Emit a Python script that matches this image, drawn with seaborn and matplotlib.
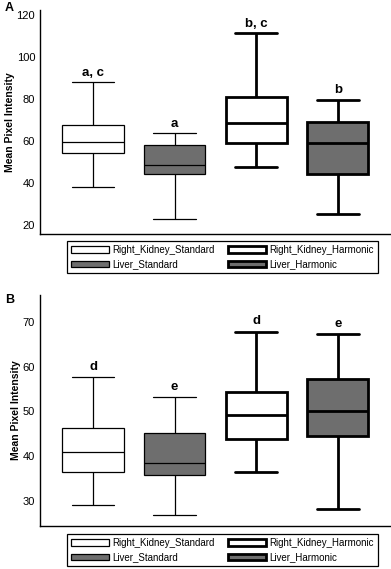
import numpy as np
import pandas as pd
import seaborn as sns
import matplotlib.pyplot as plt
from matplotlib.patches import Patch

# ==========================================
# data
# ==========================================
groups = ['Right_Kidney_Standard', 'Liver_Standard', 'Right_Kidney_Harmonic', 'Liver_Harmonic']
fills = ['white', '#6e6e6e', 'white', '#6e6e6e']
lws = [0.9, 0.9, 2.0, 2.0]

# panel A: low whisker, Q1, median, Q3, high whisker
a_low = [38.3, 22.9, 47.8, 25.4]
a_q1 = [54.3, 44.3, 59.0, 44.3]
a_med = [59.4, 48.6, 68.4, 58.9]
a_q3 = [67.8, 57.9, 80.8, 68.9]
a_high = [88.1, 63.7, 111.6, 79.5]
a_letters = ['a, c', 'a', 'b, c', 'b']
a_letter_y = [92.5, 68.1, 115.7, 84.3]

# panel B
b_low = [29.0, 26.7, 36.3, 28.1]
b_q1 = [36.3, 35.7, 43.7, 44.4]
b_med = [40.9, 38.4, 49.2, 50.1]
b_q3 = [46.3, 45.1, 54.3, 57.3]
b_high = [57.6, 53.2, 67.8, 67.3]
b_letters = ['d', 'e', 'd', 'e']
b_letter_y = [59.8, 55.5, 70.2, 69.6]


def five_num_frame(low, q1, med, q3, high):
    rows = []
    for g, vals in zip(groups, zip(low, q1, med, q3, high)):
        for v in vals:
            rows.append({'group': g, 'value': v})
    return pd.DataFrame(rows)


sns.set_style('white')
plt.rcParams['font.family'] = ['Liberation Sans', 'DejaVu Sans']
plt.rcParams['text.color'] = 'black'
plt.rcParams['axes.labelcolor'] = 'black'
plt.rcParams['ytick.color'] = 'black'

fig = plt.figure(figsize=(3.91, 5.69), dpi=100)
ax_a = fig.add_axes([40 / 391, 1 - 234.3 / 569, 350 / 391, 224.3 / 569])
ax_b = fig.add_axes([40 / 391, 1 - 525.7 / 569, 350 / 391, 230.7 / 569])

panels = [
    (ax_a, five_num_frame(a_low, a_q1, a_med, a_q3, a_high), a_letters, a_letter_y,
     (15.6, 122.4), [20, 40, 60, 80, 100, 120], 'A', 241),
    (ax_b, five_num_frame(b_low, b_q1, b_med, b_q3, b_high), b_letters, b_letter_y,
     (24.4, 76.0), [30, 40, 50, 60, 70], 'B', 534),
]

for ax, df, letters, letter_y, ylim, yticks, tag, leg_top in panels:
    for i, g in enumerate(groups):
        sns.boxplot(data=df[df['group'] == g], x='group', y='value', order=groups,
                    color=fills[i], saturation=1, width=0.75, whis=(0, 100),
                    linecolor='black', linewidth=lws[i], capwidths=0.52,
                    showfliers=False, ax=ax)
    for i, (txt, y) in enumerate(zip(letters, letter_y)):
        ax.text(i, y, txt, ha='center', va='center', fontsize=9.5, fontweight='bold')

    ax.set_xlim(-0.65, 3.64)
    ax.set_ylim(*ylim)
    ax.set_yticks(yticks)
    ax.set_xticks([])
    ax.set_xlabel('')
    ax.set_ylabel('Mean Pixel Intensity', fontsize=7.5, fontweight='bold', labelpad=1)
    ax.tick_params(axis='y', length=0, pad=3.5, labelsize=8)
    for side in ['top', 'right']:
        ax.spines[side].set_visible(False)
    for side in ['left', 'bottom']:
        ax.spines[side].set_color('black')
        ax.spines[side].set_linewidth(1.0)

    fig.text(5 / 391, 1 - (8 if tag == 'A' else 300) / 569, tag, ha='left', va='center',
             fontsize=9, fontweight='bold')

    handles = [Patch(facecolor=fills[i], edgecolor='black', linewidth=lws[i]) for i in range(4)]
    leg = fig.legend(handles, groups, loc='upper left',
                     bbox_to_anchor=(67 / 391, 1 - leg_top / 569), ncol=2, fontsize=7,
                     frameon=True, fancybox=False, framealpha=1, edgecolor='black',
                     borderaxespad=0, borderpad=0.4, handlelength=3.9, handleheight=0.6,
                     handletextpad=0.4, columnspacing=1.3, labelspacing=0.45)
    leg.get_frame().set_linewidth(0.9)

fig.savefig('out.png', dpi=100)
